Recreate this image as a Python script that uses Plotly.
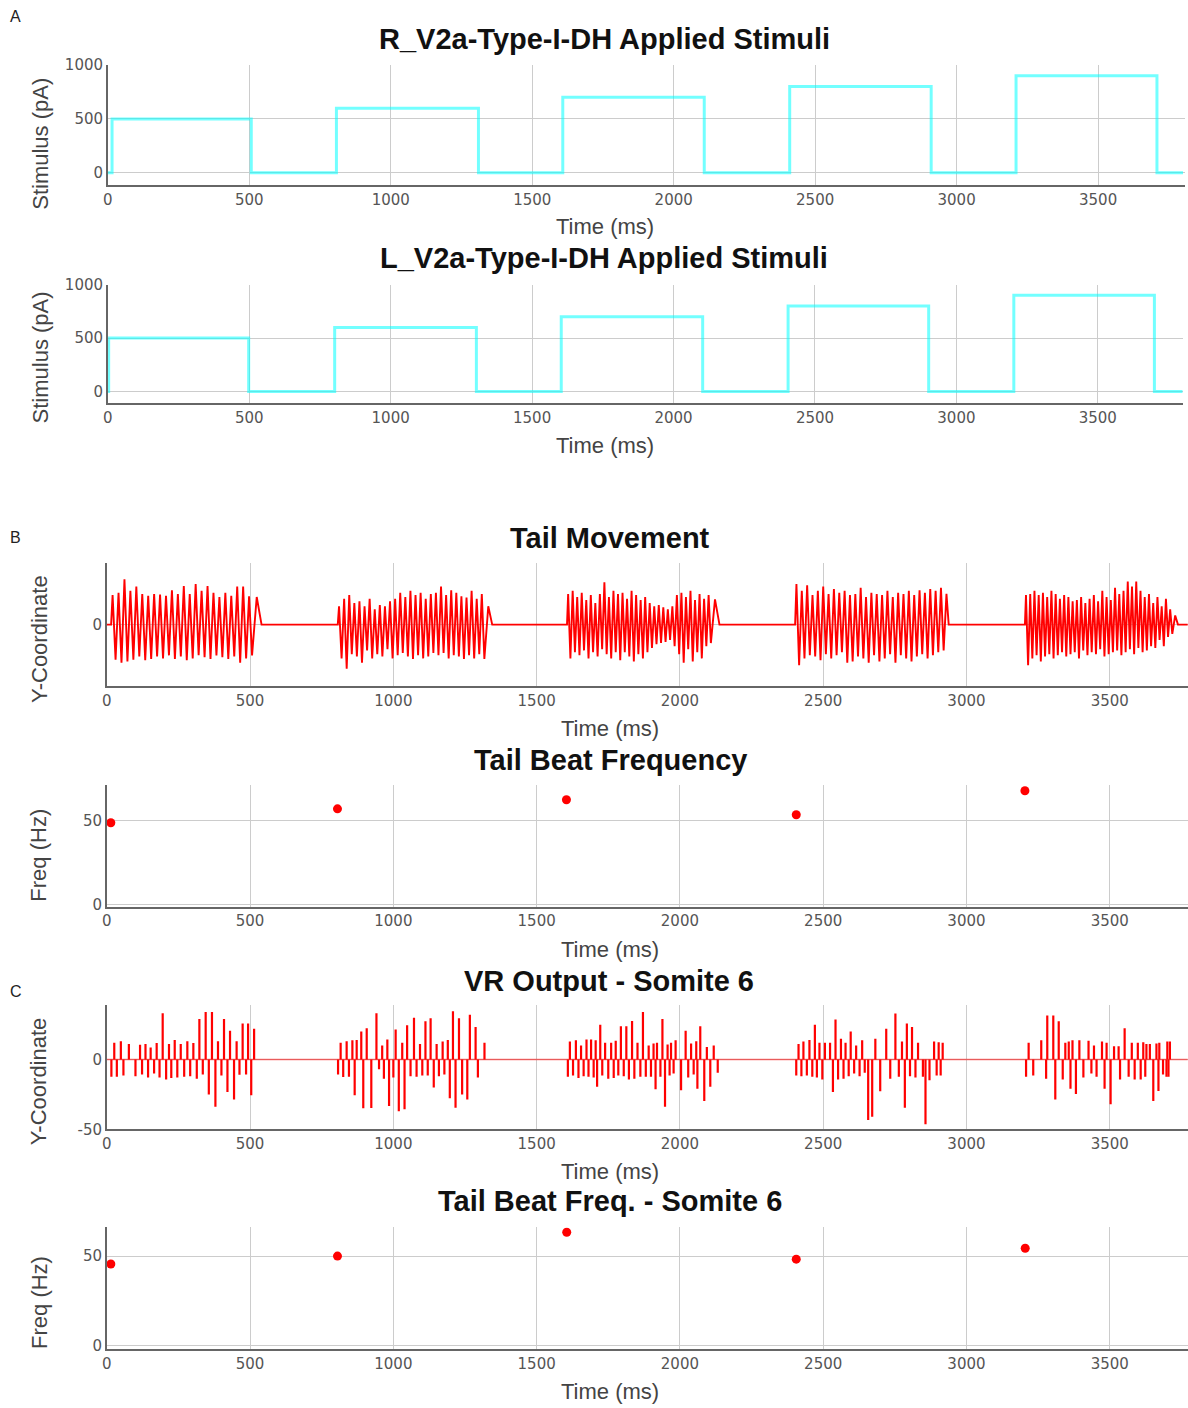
import plotly.graph_objects as go

# figure size; the page adds an 8px body margin around it and the captured
# page is a little larger than the figure, so layout pixels are mapped back
FW, FH = 1188, 1408
OFF = 8
SX, SY = 1188 / 1196, 1408 / 1424


def px_x(x):
    x = x + 3.5 * (1098 - x) / 991
    return (x / SX - OFF) / FW


def px_y(y):
    return 1 - (y / SY - OFF) / FH


# ---------------- data ----------------
time_ticks = [0, 500, 1000, 1500, 2000, 2500, 3000, 3500]

# applied stimulus pulses (ms, ms, pA)
r_on = [15, 808, 1608, 2410, 3210]
r_off = [507, 1310, 2108, 2910, 3708]
l_on = [3, 802, 1603, 2405, 3203]
l_off = [498, 1303, 2103, 2902, 3700]
stim_amp = [500, 600, 700, 800, 900]
stim_end = 3800

# tail movement: burst windows, cycle peaks/troughs, settling
tail_on = [15, 806, 1606, 2402, 3204]
tail_off = [512, 1322, 2112, 2925, 3722]
tail_bump = [0.45, 0.30, 0.41, 0.50, 0.15]
tail_settle = [540, 1345, 2138, 2938, 3738]
tail_peaks = [
    [0.48, 0.52, 0.74, 0.55, 0.62, 0.50, 0.47, 0.50, 0.49, 0.47, 0.56, 0.50,
     0.63, 0.50, 0.66, 0.55, 0.63, 0.52, 0.45, 0.52, 0.47, 0.62, 0.62, 0.46],
    [0.30, 0.42, 0.48, 0.35, 0.38, 0.30, 0.42, 0.25, 0.32, 0.30, 0.38, 0.42,
     0.52, 0.45, 0.55, 0.48, 0.52, 0.42, 0.50, 0.52, 0.62, 0.48, 0.56, 0.52,
     0.46, 0.44, 0.55, 0.42, 0.50],
    [0.50, 0.55, 0.45, 0.52, 0.40, 0.48, 0.35, 0.50, 0.69, 0.45, 0.55, 0.50,
     0.52, 0.42, 0.55, 0.48, 0.40, 0.45, 0.35, 0.30, 0.32, 0.28, 0.25, 0.30,
     0.48, 0.52, 0.45, 0.55, 0.40, 0.50, 0.42, 0.48],
    [0.66, 0.55, 0.64, 0.48, 0.55, 0.62, 0.50, 0.58, 0.52, 0.55, 0.48, 0.50,
     0.60, 0.45, 0.52, 0.50, 0.48, 0.55, 0.45, 0.52, 0.50, 0.55, 0.48, 0.56,
     0.52, 0.58, 0.55, 0.60],
    [0.48, 0.50, 0.55, 0.48, 0.52, 0.45, 0.55, 0.50, 0.42, 0.48, 0.45, 0.38,
     0.40, 0.45, 0.35, 0.42, 0.48, 0.38, 0.55, 0.45, 0.40, 0.60, 0.50, 0.55,
     0.70, 0.62, 0.70, 0.55, 0.45, 0.50, 0.35, 0.45, 0.30, 0.42, 0.25],
]
tail_troughs = [
    [-0.57, -0.62, -0.60, -0.57, -0.52, -0.58, -0.56, -0.52, -0.55, -0.50, -0.56, -0.52,
     -0.58, -0.55, -0.50, -0.53, -0.56, -0.50, -0.53, -0.56, -0.52, -0.62, -0.55, -0.50],
    [-0.55, -0.72, -0.48, -0.52, -0.62, -0.42, -0.55, -0.48, -0.52, -0.40, -0.55, -0.50,
     -0.46, -0.52, -0.56, -0.50, -0.55, -0.52, -0.46, -0.50, -0.46, -0.55, -0.50, -0.52,
     -0.56, -0.50, -0.55, -0.48, -0.56],
    [-0.55, -0.45, -0.50, -0.42, -0.55, -0.45, -0.52, -0.40, -0.48, -0.55, -0.45, -0.58,
     -0.45, -0.52, -0.60, -0.48, -0.55, -0.45, -0.38, -0.32, -0.30, -0.28, -0.25, -0.35,
     -0.48, -0.62, -0.40, -0.60, -0.45, -0.55, -0.35, -0.30],
    [-0.66, -0.55, -0.50, -0.52, -0.58, -0.48, -0.55, -0.50, -0.45, -0.62, -0.60, -0.52,
     -0.55, -0.62, -0.50, -0.60, -0.55, -0.48, -0.62, -0.50, -0.55, -0.60, -0.52, -0.48,
     -0.55, -0.50, -0.45, -0.42],
    [-0.66, -0.55, -0.50, -0.60, -0.52, -0.48, -0.55, -0.50, -0.45, -0.52, -0.48, -0.45,
     -0.55, -0.42, -0.50, -0.45, -0.48, -0.40, -0.52, -0.48, -0.45, -0.42, -0.50, -0.45,
     -0.40, -0.48, -0.38, -0.45, -0.42, -0.35, -0.38, -0.25, -0.35, -0.20, -0.15],
]

# tail beat frequency per swim episode
tbf_t = [14, 805, 1604, 2406, 3204]
tbf_hz = [48.8, 57.1, 62.5, 53.6, 67.9]

# ventral root output, somite 6: spike times (ms) and amplitudes
vr_t = [
    16, 26, 35, 49, 58, 77, 100, 116, 123, 135, 144, 153, 165, 174, 184, 195, 207, 217,
    225, 237, 246, 258, 270, 281, 291, 302, 314, 323, 335, 345, 356, 367, 379, 388, 400,
    409, 421, 430, 444, 453, 463, 474, 486, 493, 504, 514,
    807, 816, 825, 837, 845, 857, 865, 872, 888, 895, 907, 923, 941, 950, 961, 967, 979,
    985, 1000, 1008, 1019, 1031, 1039, 1048, 1060, 1072, 1081, 1093, 1101, 1112, 1120,
    1130, 1141, 1151, 1159, 1172, 1178, 1190, 1197, 1208, 1217, 1229, 1240, 1258, 1267,
    1287, 1295, 1318,
    1609, 1616, 1627, 1637, 1646, 1655, 1664, 1674, 1681, 1690, 1699, 1706, 1711, 1722,
    1729, 1739, 1750, 1760, 1769, 1776, 1785, 1794, 1804, 1813, 1822, 1833, 1841, 1852,
    1862, 1871, 1881, 1891, 1899, 1908, 1915, 1920, 1932, 1939, 1948, 1957, 1964, 1969,
    1978, 1985, 2004, 2020, 2029, 2039, 2048, 2057, 2061, 2071, 2085, 2094, 2106, 2118, 2132,
    2406, 2414, 2424, 2431, 2443, 2452, 2462, 2471, 2478, 2487, 2497, 2506, 2524, 2534,
    2543, 2552, 2562, 2571, 2578, 2589, 2596, 2608, 2615, 2627, 2636, 2645, 2657, 2671,
    2682, 2699, 2720, 2734, 2752, 2764, 2775, 2785, 2792, 2803, 2810, 2822, 2831, 2848,
    2857, 2871, 2887, 2896, 2903, 2910, 2917,
    3208, 3217, 3233, 3261, 3278, 3282, 3303, 3310, 3322, 3336, 3345, 3357, 3363, 3370,
    3382, 3394, 3408, 3426, 3436, 3445, 3454, 3473, 3482, 3489, 3503, 3515, 3531, 3536,
    3552, 3566, 3577, 3587, 3598, 3608, 3617, 3624, 3628, 3640, 3652, 3663, 3670, 3673,
    3686, 3698, 3701, 3705, 3710,
]
vr_amp = [
    -12.4, 11.9, -12.4, 13, -11.4, 11, -12, 10.5, -10.7, 11, -13, 8.6, -10, 11.7, -13, 33,
    -14.3, 11, -13.3, 14, -13, 11, -12.4, 13, -12, 11.7, -13.8, 29, -10.7, 34, -25, 34,
    -33.8, 13, -11.4, 29, -23.3, 20.5, -28.6, 13, -11, 25.7, -10.7, 25.7, -25.7, 22,
    -10.7, 12, -12.6, 13, -12.4, 13.8, -25.7, 14, 20, -35, 22.4, -34.7, 33, -7, 10, -13.8,
    14.3, -33.3, -13, 21.4, -37, 12, -35.7, 24.5, -12, 29.8, -12.4, 11, -11.4, 27.4, -11.4,
    29.5, -20, 11, -12, 12.9, -10.7, 14, -27.8, 34.5, -34.5, 29.5, -25, -28.6, 31.9,
    23.3, -13, 12,
    -12.4, 12.9, -11.4, 13.8, -13.3, 10, -12, 14.3, -12.4, 14.3, -13, 13.8, -19.5, 24.8,
    -11.4, 12, -13.8, 12, -13.3, 13.3, -11.4, 23.8, -12, 23.8, -14.3, 27.6, -13.8, 12,
    -12.4, 34, -12.4, 10, -12.4, 11.4, -21.4, 12, -12.4, 29, -33.8, 10.7, -11.4, 12,
    -10, 13.8, -22, 20.5, -13, 11.4, -10.7, 13, -21, 23.8, -29.8, 9, -19.5, 10, -9.5,
    -11.4, 11, -12, 12.9, -11.4, 14, -12.4, 24.8, -12.9, 12, -14.3, 12, 12, -23.3,
    28.6, -14.3, 14.8, -13.8, 12, -12, 20, -10, 10, -12, 13.8, -9.5, -43.3, -41,
    14.8, -22.8, 22, -13.8, 32.8, -12.4, 12.9, -34.5, 25.7, -12, 23.3, -13, 12, -12.4,
    -46.4, -14.8, 12.9, -11.4, 12.4, -11.4, 12,
    -12.4, 12, -11.4, 13.8, -13.8, 31.4, 31.4, -28.6, 27.4, -14.3, 12, 12.9, -21, 13.8,
    -24.8, 13.8, -13, 13.3, -10, 10, -12.4, 12.9, -21, 12, -32, 9.5, 9.5, -14.3,
    22.4, -12.4, 12, -14.3, 12, -14.3, 12.4, -12.4, 11, 11, -29.8, 11.4, -22.6, 12,
    -10.7, -12.4, 12.9, -12.4, 12.9,
]

# tail beat frequency estimated from somite 6 output
tbf6_t = [14, 805, 1605, 2406, 3205]
tbf6_hz = [45.6, 50.0, 63.3, 48.3, 54.4]


# ---------------- trace builders ----------------
def step_trace(on, off, amp, end):
    xs, ys = [0], [0]
    for a, b, v in zip(on, off, amp):
        xs += [a, a, b, b]
        ys += [0, v, v, 0]
    xs.append(end)
    ys.append(0)
    return xs, ys


def tail_trace():
    xs, ys = [0], [0]
    for k in range(len(tail_on)):
        a, b = tail_on[k], tail_off[k]
        ext = []
        for p, q in zip(tail_peaks[k], tail_troughs[k]):
            ext += [p, q]
        n = len(ext)
        xs.append(a)
        ys.append(0)
        for i, v in enumerate(ext):
            xs.append(a + (i + 0.5) * (b - a) / n)
            ys.append(v)
        xs.append(b + (tail_settle[k] - b) * 0.4)
        ys.append(tail_bump[k])
        xs.append(tail_settle[k])
        ys.append(0)
    xs.append(3780)
    ys.append(0)
    return xs, ys


def spike_segments():
    xs, ys = [], []
    for t, a in zip(vr_t, vr_amp):
        xs += [t, t, None]
        ys += [0, a, None]
    return xs, ys


# ---------------- figure ----------------
fig = go.Figure()

CYAN = "rgba(0,255,255,0.55)"
RED = "#ff0000"
PALE_RED = "rgba(255,0,0,0.55)"

sx, sy = step_trace(r_on, r_off, stim_amp, stim_end)
fig.add_trace(go.Scatter(x=sx, y=sy, mode="lines", line=dict(color=CYAN, width=3),
                         xaxis="x", yaxis="y", hoverinfo="skip"))
sx, sy = step_trace(l_on, l_off, stim_amp, stim_end)
fig.add_trace(go.Scatter(x=sx, y=sy, mode="lines", line=dict(color=CYAN, width=3),
                         xaxis="x2", yaxis="y2", hoverinfo="skip"))
tx, ty = tail_trace()
fig.add_trace(go.Scatter(x=tx, y=ty, mode="lines", line=dict(color=RED, width=1.9),
                         xaxis="x3", yaxis="y3", hoverinfo="skip"))
fig.add_trace(go.Scatter(x=tbf_t, y=tbf_hz, mode="markers",
                         marker=dict(color=RED, size=9),
                         xaxis="x4", yaxis="y4"))
# VR baseline, then the spikes on top
fig.add_trace(go.Scatter(x=[0, 3780], y=[0, 0], mode="lines",
                         line=dict(color=PALE_RED, width=1.5),
                         xaxis="x5", yaxis="y5", hoverinfo="skip"))
vx, vy = spike_segments()
fig.add_trace(go.Scatter(x=vx, y=vy, mode="lines", line=dict(color=RED, width=2.2),
                         connectgaps=False, xaxis="x5", yaxis="y5", hoverinfo="skip"))
fig.add_trace(go.Scatter(x=tbf6_t, y=tbf6_hz, mode="markers",
                         marker=dict(color=RED, size=9),
                         xaxis="x6", yaxis="y6"))

FONT = "Liberation Sans"
TICKFONT = dict(family="DejaVu Sans", size=15, color="#555")
GRID = "#cccccc"
AXLINE = "#666"

# panel boxes in page pixels: left, right, top, bottom
boxes = [
    (107, 1185, 64, 184),
    (107, 1183, 284, 403),
    (106, 1188, 563, 686),
    (106, 1188, 785, 907),
    (106, 1188, 1005, 1130),
    (106, 1188, 1228, 1350),
]
xranges = [[0, 3806], [0, 3800], [0, 3772], [0, 3772], [0, 3772], [0, 3772]]
yranges = [[-111, 1000], [-112, 1000], [-1.0, 1.0], [-1.2, 71.4], [-50, 39.3], [-1.7, 66.1]]
yticks = [[0, 500, 1000], [0, 500, 1000], [0], [0, 50], [-50, 0], [0, 50]]

layout = {}
for i, (l, r, t, b) in enumerate(boxes):
    n = "" if i == 0 else str(i + 1)
    layout["xaxis" + n] = dict(
        domain=[px_x(l), min(1.0, px_x(r))], range=xranges[i], anchor="y" + n,
        tickvals=time_ticks, showgrid=True, gridcolor=GRID, gridwidth=1,
        showline=True, linecolor=AXLINE, linewidth=1.5, zeroline=False,
        ticks="", tickfont=TICKFONT, fixedrange=True,
    )
    layout["yaxis" + n] = dict(
        domain=[max(0.0, px_y(b)), px_y(t)], range=yranges[i], anchor="x" + n,
        tickvals=yticks[i], ticktext=[str(v) for v in yticks[i]],
        showgrid=True, gridcolor=GRID, gridwidth=1,
        showline=True, linecolor=AXLINE, linewidth=1.5, zeroline=False,
        ticks="", tickfont=TICKFONT, fixedrange=True,
    )

annotations = []


def text(x, y, s, size, bold=False, angle=0, color="#222", anchor="center"):
    annotations.append(dict(
        x=px_x(x), y=px_y(y), xref="paper", yref="paper",
        text=f"<b>{s}</b>" if bold else s,
        showarrow=False, textangle=angle, xanchor=anchor, yanchor="middle",
        font=dict(family=FONT, size=size, color=color),
    ))


titles = [
    ("R_V2a-Type-I-DH Applied Stimuli", 604, 38),
    ("L_V2a-Type-I-DH Applied Stimuli", 604, 257),
    ("Tail Movement", 610, 538),
    ("Tail Beat Frequency", 610, 760),
    ("VR Output - Somite 6", 609, 981),
    ("Tail Beat Freq. - Somite 6", 610, 1202),
]
for s, x, y in titles:
    text(x, y, s, 29, bold=True, color="#111")

for x, y in [(605, 226), (605, 445), (610, 729), (610, 950), (610, 1172), (610, 1393)]:
    text(x, y, "Time (ms)", 22, color="#444")

ylabels = [
    ("Stimulus (pA)", 40, 143),
    ("Stimulus (pA)", 40, 357),
    ("Y-Coordinate", 38, 639),
    ("Freq (Hz)", 38, 855),
    ("Y-Coordinate", 38, 1082),
    ("Freq (Hz)", 38, 1303),
]
for s, x, y in ylabels:
    text(x, y, s, 22, angle=-90, color="#444")

for s, y in [("A", 15), ("B", 537), ("C", 992)]:
    text(7, y, s, 16, color="#222", anchor="left")

fig.update_layout(
    width=FW, height=FH, margin=dict(l=0, r=0, t=0, b=0),
    paper_bgcolor="white", plot_bgcolor="white", showlegend=False,
    annotations=annotations, **layout,
)

fig.write_html("out.html", config={"displayModeBar": False})
